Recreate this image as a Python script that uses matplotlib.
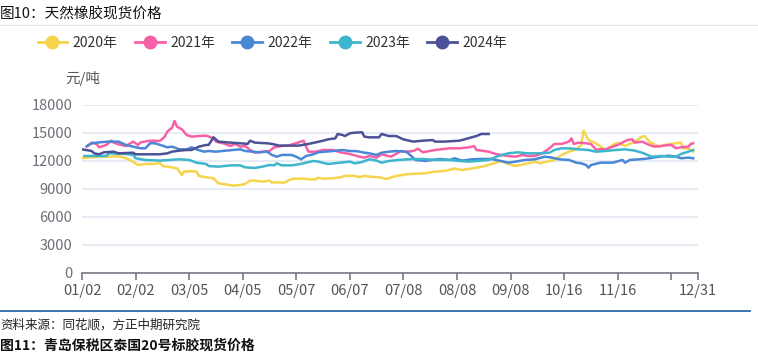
import matplotlib
matplotlib.use('Agg')
from matplotlib import pyplot as plt
from matplotlib.lines import Line2D

plt.rcParams['font.family'] = ['Noto Sans CJK SC', 'DejaVu Sans']

# trading-day index within the year, price (yuan/ton)
X_2020 = [0, 7, 11, 15, 18, 21, 23, 26, 30, 32, 33, 37, 39, 41, 42, 45, 47, 48, 51, 54, 56, 59, 62,
          65, 67, 69, 71, 74, 77, 78, 80, 83, 85, 87, 91, 93, 96, 97, 99, 103, 106, 108, 111, 114,
          116, 118, 122, 125, 129, 134, 141, 145, 149, 153, 156, 163, 167, 170, 172, 175, 178, 182,
          186, 188, 192, 194, 197, 200, 203, 205, 206, 208, 211, 213, 215, 218, 220, 223, 227, 230,
          231, 233, 237, 239, 244, 246, 247, 249, 251]
Y_2020 = [12300, 12450, 12450, 12500, 12300, 11900, 11560, 11670, 11670, 11800, 11450, 11300, 11200,
          10490, 10850, 10900, 10850, 10380, 10240, 10130, 9590, 9480, 9340, 9410, 9520, 9880, 9880,
          9770, 9880, 9660, 9700, 9660, 9950, 10090, 10090, 10020, 10020, 10200, 10090, 10130, 10240,
          10380, 10410, 10270, 10380, 10310, 10240, 10060, 10380, 10590, 10670, 10850, 10920, 11170,
          11020, 11310, 11560, 11810, 11990, 11670, 11450, 11670, 11920, 11740, 11990, 12100, 12640,
          12990, 13240, 13710, 15250, 14240, 13890, 13530, 13170, 13710, 13960, 13600, 14070, 14600,
          14670, 14070, 13530, 13710, 13890, 13960, 13350, 13350, 12990]

X_2021 = [2, 4, 6, 7, 10, 12, 13, 15, 18, 21, 23, 24, 28, 32, 34, 35, 37, 38, 39, 41, 43, 45, 48, 51,
          54, 55, 58, 61, 63, 65, 67, 69, 71, 74, 77, 79, 82, 85, 89, 91, 92, 93, 96, 99, 103, 106,
          110, 114, 116, 118, 121, 123, 127, 131, 133, 136, 138, 140, 145, 151, 155, 159, 161, 162,
          164, 167, 170, 172, 175, 178, 181, 183, 186, 189, 192, 194, 197, 200, 201, 202, 204, 207,
          209, 211, 215, 218, 220, 224, 226, 227, 230, 233, 235, 238, 241, 242, 244, 246, 249, 250, 251]
Y_2021 = [13530, 13960, 13820, 13460, 13710, 14170, 13960, 13780, 13600, 14070, 13710, 13990, 14170,
          14140, 14600, 15140, 15570, 16280, 15680, 15390, 14780, 14600, 14670, 14710, 14420, 14070,
          13890, 13600, 13820, 13530, 13600, 13170, 12880, 12990, 13060, 13460, 13600, 13670, 13990,
          14170, 13530, 12990, 12990, 13170, 13170, 12920, 12740, 12450, 12350, 12530, 12350, 12710,
          12450, 13060, 12990, 13060, 13310, 12920, 13170, 13350, 13350, 13460, 13600, 13170, 13100,
          12990, 12740, 12640, 12530, 12450, 12640, 12530, 12530, 12810, 13350, 13820, 13820, 14070,
          14420, 13820, 13960, 13890, 13820, 13240, 13240, 13530, 13710, 14240, 14310, 13960, 14070,
          13710, 13530, 13600, 13710, 13710, 13350, 13460, 13530, 13820, 13890]

X_2022 = [2, 4, 7, 11, 15, 18, 21, 24, 26, 28, 30, 33, 35, 37, 40, 43, 45, 47, 50, 52, 55, 59, 62,
          65, 67, 70, 73, 76, 78, 80, 82, 84, 86, 88, 90, 92, 95, 97, 100, 103, 107, 110, 112, 114,
          116, 118, 121, 123, 126, 129, 133, 134, 137, 141, 147, 151, 153, 156, 160, 164, 168, 172,
          175, 178, 182, 186, 190, 193, 196, 200, 203, 205, 207, 208, 209, 213, 218, 222, 223, 225,
          229, 233, 237, 241, 244, 246, 249, 251]
Y_2022 = [13600, 13890, 13990, 14070, 14070, 13710, 13530, 13350, 13350, 13890, 13890, 13640, 13460,
          13530, 13240, 13240, 13460, 13240, 12990, 13060, 12990, 13100, 13170, 13240, 13060, 12990,
          12920, 12990, 12640, 12450, 12640, 12640, 12640, 12450, 12170, 12530, 12710, 12920, 12990,
          13060, 13170, 13060, 13060, 12990, 12880, 12810, 12640, 12880, 12990, 13060, 12990, 12810,
          12100, 11990, 12210, 12100, 12280, 12030, 12170, 12210, 12210, 11990, 11810, 11920, 12100,
          12170, 12450, 12350, 12170, 12100, 11810, 11740, 11560, 11270, 11560, 11810, 11810, 12100,
          11810, 12100, 12170, 12280, 12450, 12560, 12450, 12280, 12350, 12280]

X_2023 = [1, 7, 10, 11, 18, 21, 22, 26, 32, 36, 40, 44, 47, 51, 52, 56, 61, 65, 67, 71, 74, 77, 79,
          80, 82, 86, 89, 92, 95, 97, 101, 106, 110, 112, 115, 118, 121, 123, 126, 130, 134, 140,
          145, 151, 155, 159, 164, 167, 171, 175, 179, 183, 188, 192, 194, 197, 200, 204, 208, 211,
          215, 219, 223, 227, 230, 234, 238, 241, 244, 246, 249, 251]
Y_2023 = [12530, 12530, 12530, 12810, 12740, 12640, 12280, 12100, 12030, 12100, 12170, 12100, 11810,
          11670, 11450, 11380, 11520, 11520, 11310, 11240, 11380, 11560, 11520, 11740, 11520, 11520,
          11630, 11810, 11990, 11920, 11670, 11810, 11920, 11740, 11880, 12170, 12030, 11810, 11990,
          12100, 12170, 12210, 12100, 12100, 11990, 11920, 12030, 12100, 12530, 12810, 12920, 12810,
          12810, 12880, 13170, 13350, 13350, 13240, 13170, 12990, 13060, 13170, 13240, 13100, 12880,
          12450, 12530, 12450, 12450, 12740, 12990, 13170]

X_2024 = [0, 4, 5, 7, 9, 13, 15, 21, 22, 26, 32, 35, 37, 40, 43, 45, 48, 51, 52, 54, 56, 61, 65, 68,
          69, 71, 76, 78, 81, 85, 89, 93, 96, 99, 101, 104, 105, 107, 108, 110, 112, 115, 116, 118,
          122, 123, 126, 129, 132, 136, 140, 144, 145, 149, 155, 157, 162, 164, 167]
Y_2024 = [13240, 13060, 12810, 12710, 12920, 12990, 12810, 12880, 12710, 12710, 12710, 12810, 12990,
          13100, 13170, 13170, 13530, 13710, 13710, 14530, 14070, 13960, 13890, 13820, 14170, 13960,
          13890, 13820, 13640, 13640, 13640, 13820, 13990, 14170, 14310, 14420, 14890, 14780, 14670,
          14960, 15030, 15070, 14600, 14530, 14530, 14890, 14670, 14670, 14310, 14070, 14170, 14240,
          14070, 14070, 14170, 14310, 14670, 14890, 14890]

SERIES = [
    ('2020年', X_2020, Y_2020, '#f6d44c'),
    ('2021年', X_2021, Y_2021, '#f660a6'),
    ('2022年', X_2022, Y_2022, '#4a87d6'),
    ('2023年', X_2023, Y_2023, '#3db5cd'),
    ('2024年', X_2024, Y_2024, '#4b5297'),
]

TICK_POS = [0, 22, 44, 66, 88, 110, 132, 154, 176, 198, 220, 242, 253]
TICK_LABELS = ['01/02', '02/02', '03/05', '04/05', '05/07', '06/07', '07/08', '08/08',
               '09/08', '10/16', '11/16', '', '12/31']
Y_TICKS = [0, 3000, 6000, 9000, 12000, 15000, 18000]

AXIS_GREY = '#6e7079'


def main():
    fig = plt.figure(figsize=(7.58, 3.54), dpi=100)
    ax = fig.add_axes([0.1082, 0.2297, 0.8127, 0.4737])

    for name, xs, ys, color in SERIES:
        ax.plot(xs, ys, color=color, lw=1.8, solid_joinstyle='round', label=name)

    ax.set_xlim(0, 253)
    ax.set_ylim(0, 18000)
    ax.set_yticks(Y_TICKS)
    ax.set_yticklabels([str(v) for v in Y_TICKS])
    ax.set_xticks(TICK_POS)
    ax.set_xticklabels(TICK_LABELS)
    ax.grid(axis='y', color='#e0e6f1', lw=1.1)
    ax.set_axisbelow(True)
    for side in ['top', 'right', 'left']:
        ax.spines[side].set_visible(False)
    ax.spines['bottom'].set_color(AXIS_GREY)
    ax.spines['bottom'].set_linewidth(1.1)
    ax.tick_params(axis='x', colors=AXIS_GREY, length=5, width=1.1, labelsize=10.5, pad=3)
    ax.tick_params(axis='y', colors=AXIS_GREY, length=0, labelsize=10.5, pad=7)
    for lbl in ax.get_xticklabels():
        lbl.set_color('#555555')

    # legend, echarts-like line + circle handles
    handles = [Line2D([], [], color=c, lw=2, marker='o', markersize=9) for _, _, _, c in SERIES]
    fig.legend(handles, [s[0] for s in SERIES], loc='upper left', bbox_to_anchor=(0.033, 0.935),
               ncol=5, frameon=False, handlelength=2.15, handletextpad=0.4, columnspacing=1.23,
               prop={'size': 10}, labelcolor='#333333')

    fig.text(0.086, 0.765, '元/吨', fontsize=10.5, color='#555555')

    # page decoration
    fig.text(0.0, 0.958, '图10：天然橡胶现货价格', fontsize=10.5, color='#111111', va='center')
    fig.add_artist(Line2D([0, 1], [0.929, 0.929], color='#e6e6e6', lw=0.8))
    fig.add_artist(Line2D([0, 0.99], [0.121, 0.121], color='#2e6aa8', lw=1.3))
    fig.text(0.0, 0.082, '资料来源：同花顺，方正中期研究院', fontsize=9, style='italic',
             color='#222222', va='center')
    fig.text(0.0, 0.003, '图11：青岛保税区泰国20号标胶现货价格', fontsize=10,
             fontweight='bold', color='#111111', va='bottom')

    fig.savefig('out.png', dpi=100)


if __name__ == '__main__':
    main()
